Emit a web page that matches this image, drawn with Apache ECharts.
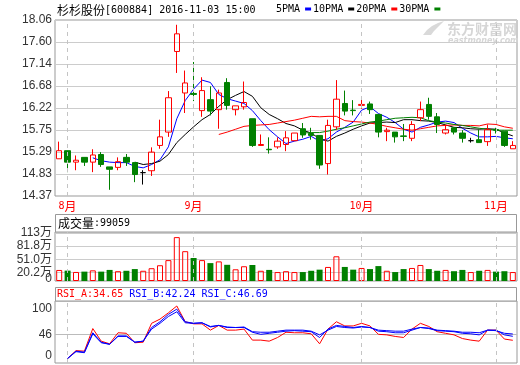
<!DOCTYPE html>
<html><head><meta charset="utf-8">
<script src="https://cdn.jsdelivr.net/npm/echarts@6/dist/echarts.min.js"></script>
<style>html,body{margin:0;padding:0;background:#fff}#c{width:520px;height:365px}</style>
</head><body><div id="c"></div>
<script>
const dates = ['2016-07-29',
'2016-08-01','2016-08-02','2016-08-03','2016-08-04','2016-08-05','2016-08-08','2016-08-09','2016-08-10','2016-08-11','2016-08-12','2016-08-15','2016-08-16','2016-08-17','2016-08-18','2016-08-19',
'2016-09-01','2016-09-02','2016-09-05','2016-09-06','2016-09-07','2016-09-08','2016-09-09','2016-09-12','2016-09-13','2016-09-14','2016-09-19','2016-09-20','2016-09-21','2016-09-22','2016-09-23','2016-09-26','2016-09-27','2016-09-28','2016-09-29','2016-09-30',
'2016-10-10','2016-10-11','2016-10-12','2016-10-13','2016-10-14','2016-10-17','2016-10-18','2016-10-19','2016-10-20','2016-10-21','2016-10-24','2016-10-25','2016-10-26','2016-10-27','2016-10-28','2016-10-31',
'2016-11-01','2016-11-02','2016-11-03'];
const opens  = [15.15,15.32,15.08,15.18,15.08,15.24,14.98,14.97,15.18,15.07,14.86,14.90,15.43,15.71,17.40,16.53,16.52,16.16,16.39,16.18,16.75,16.18,16.24,15.99,15.43,15.35,15.40,15.45,15.53,15.78,15.68,15.64,15.05,15.82,16.31,16.17,16.27,16.30,16.08,15.72,15.71,15.63,15.58,16.01,16.29,16.03,15.69,15.80,15.69,15.53,15.55,15.51,15.76,15.73,15.36];
const closes = [15.32,15.08,15.12,15.08,15.23,15.03,14.93,15.09,15.08,14.82,14.86,15.29,15.61,16.43,17.77,16.74,16.50,16.58,16.15,16.53,16.27,16.26,16.33,15.43,15.45,15.34,15.52,15.59,15.69,15.65,15.64,15.02,15.85,16.40,16.15,16.16,16.29,16.18,15.71,15.75,15.61,15.62,15.87,16.18,16.04,15.87,15.76,15.71,15.58,15.53,15.49,15.76,15.75,15.43,15.43];
const lows   = [15.15,14.87,14.91,15.00,14.87,14.98,14.50,14.91,15.00,14.66,14.61,14.79,15.36,15.61,16.95,16.11,16.36,16.03,16.06,15.78,16.18,16.06,16.18,15.40,15.42,15.26,15.36,15.31,15.52,15.59,15.55,14.94,14.82,15.76,16.06,16.06,16.20,16.09,15.60,15.52,15.49,15.52,15.52,15.94,15.97,15.69,15.66,15.66,15.49,15.49,15.49,15.42,15.68,15.40,15.36];
const highs  = [15.51,15.32,15.22,15.18,15.35,15.29,14.98,15.18,15.25,15.07,14.91,15.39,15.97,16.57,17.96,17.00,17.18,16.86,16.67,16.60,16.84,16.26,16.77,15.99,15.66,15.60,15.60,15.73,15.69,15.90,15.80,15.64,15.97,16.80,16.58,16.38,16.39,16.35,16.08,15.80,15.71,15.88,15.94,16.35,16.43,16.11,15.87,15.80,15.75,15.59,15.76,15.87,15.80,15.73,15.52];
const ma5  = ['-','-','-','-',15.17,15.11,15.08,15.07,15.07,14.99,14.96,15.03,15.13,15.40,15.99,16.37,16.61,16.80,16.75,16.50,16.41,16.36,16.31,16.16,15.95,15.76,15.61,15.47,15.52,15.56,15.62,15.52,15.57,15.71,15.81,15.92,16.17,16.24,16.10,16.02,15.91,15.77,15.71,15.81,15.86,15.92,15.94,15.91,15.79,15.69,15.61,15.61,15.62,15.59,15.57];
const ma10 = ['-','-','-','-','-','-','-','-','-',15.08,15.03,15.05,15.10,15.24,15.49,15.66,15.82,15.97,16.08,16.25,16.39,16.48,16.56,16.46,16.22,16.08,15.99,15.89,15.84,15.75,15.69,15.57,15.52,15.62,15.69,15.77,15.84,15.90,15.91,15.92,15.91,15.97,15.97,15.95,15.94,15.91,15.86,15.81,15.80,15.78,15.77,15.78,15.77,15.69,15.63];
const ma20 = ['-','-','-','-','-','-','-','-','-','-','-','-','-','-','-','-','-','-','-',15.66,15.71,15.77,15.83,15.85,15.86,15.87,15.90,15.93,15.96,16.00,16.04,16.03,16.04,16.04,15.95,15.93,15.92,15.90,15.87,15.83,15.80,15.77,15.75,15.78,15.81,15.84,15.85,15.86,15.85,15.85,15.84,15.88,15.87,15.82,15.79];
const ma30 = ['-','-','-','-','-','-','-','-','-','-','-','-','-','-','-','-','-','-','-','-','-','-','-','-','-','-','-','-','-',15.69,15.70,15.70,15.73,15.77,15.80,15.84,15.88,15.92,15.94,15.97,16.00,16.01,16.02,16.01,15.95,15.92,15.90,15.87,15.85,15.82,15.79,15.77,15.75,15.75,15.75];
const volumes = [25.9,24.3,21.2,22,25,22,26,23,24,28,24,30,37,49,103,70,54,49,42,46,38,27.5,34.6,37.6,24,26,21,23,21,21,24,26.6,33,58,33,26.6,30.6,28,35,24,21,28,30.6,37.6,28,24,26,23,26,21,24,26,22,23,21];
const rsiA = ['-',0,15,14,57,33,28,49,48,30,31,67,75,87,100,70,66,66,54,63,54,54,56,35,35,33,40,50,49,49,47,28,56,70,62,62,67,62,46,45,42,40,56,67,61,51,48,45,38,35,33,54,54,37,34.65];
const rsiB = ['-',0,14,12,49,31,27,43,43,31,33,59,70,84,94,70,67,68,60,63,59,59,59,50,46,48,50,52,53,52,51,40,56,63,61,59,61,59,52,51,49,49,54,59,57,53,52,51,48,47,45,54,54,45,42.24];
const rsiC = ['-',0,13,11,47,30,27,42,42,31,33,56,67,80,89,68,67,68,61,63,60,59,60,51,50,50,52,54,54,54,52,45,54,61,59,58,60,59,54,53,52,52,56,59,58,54,53,52,50,50,49,54,53,48,46.69];
const priceTicks = [14.37,14.83,15.29,15.75,16.22,16.68,17.14,17.60,18.06];
const volTicks = [0,20.2,51.0,81.8,112.6];
const volTickLabels = ['0','20.2万','51.0万','81.8万','113万'];
const rsiTicks = [0,46,100];
const maNames = ['5PMA','10PMA','20PMA','30PMA'];
const maColors = ['#0000ff','#000000','#ff0000','#008000'];

const monthStarts = dates.map((d,i)=> i>0 && d.slice(5,7)!==dates[i-1].slice(5,7) ? i : -1).filter(i=>i>=0);
const vLines = {
  silent: true, symbol: 'none', animation: false,
  label: {show: false},
  lineStyle: {type: [4,4], color: '#c4c4c4', width: 1},
  data: monthStarts.map(i => ({xAxis: i}))
};
const LF = 'Liberation Sans, Arial, Noto Sans CJK SC';
const MONO = 'DejaVu Sans Mono';
const CJK = 'Noto Sans CJK SC';

const chart = echarts.init(document.getElementById('c'), null, {renderer: 'canvas'});
const xBase = (g) => ({
  type: 'category', gridIndex: g, data: dates, boundaryGap: true,
  axisLine: {show: false}, axisTick: {show: false}, splitLine: {show: false},
  axisLabel: {show: false}
});
const x0 = xBase(0);
x0.axisLabel = {
  show: true, margin: 4,
  interval: (i) => monthStarts.indexOf(i) >= 0,
  formatter: (v) => '{m|' + parseInt(v.slice(5,7),10) + '}{c|月}',
  rich: {m: {fontFamily: MONO, fontSize: 10, color: '#ff0000'}, c: {fontFamily: CJK, fontSize: 12, color: '#ff0000'}}
};
const gridCommon = {left: 55, right: 3, show: true, borderColor: '#999', borderWidth: 1, backgroundColor: 'transparent'};
const labelBase = {color: '#333', fontSize: 12, fontFamily: LF, margin: 3, showMinLabel: true, showMaxLabel: true, hideOverlap: false};
// the zero label of the volume panel overlaps its neighbour in the original, so it is drawn as a separate text
const volAxisTicks = volTicks.filter(v => v !== 0);

const option = {
  animation: false,
  backgroundColor: '#fff',
  legend: {
    data: maNames, left: 276, top: 4, padding: 0, itemGap: 2,
    itemWidth: 6, itemHeight: 3, icon: 'rect', align: 'right', selectedMode: false,
    textStyle: {fontFamily: MONO, fontSize: 10, color: '#000'}
  },
  grid: [
    Object.assign({top: 20, height: 176}, gridCommon),
    Object.assign({top: 232, height: 49}, gridCommon),
    Object.assign({top: 301, height: 62}, gridCommon)
  ],
  xAxis: [x0, xBase(1), xBase(2)],
  yAxis: [
    {type: 'value', gridIndex: 0, min: 14.37, max: 18.06,
     axisLine: {show: false}, axisTick: {show: false, customValues: priceTicks},
     axisLabel: Object.assign({customValues: priceTicks, formatter: v => v.toFixed(2)}, labelBase),
     splitLine: {show: true, lineStyle: {color: '#cccccc', width: 1}}},
    {type: 'value', gridIndex: 1, min: 0, max: 115,
     axisLine: {show: false}, axisTick: {show: false, customValues: volAxisTicks},
     axisLabel: Object.assign({}, labelBase, {customValues: volAxisTicks,
       formatter: v => { const k = volTicks.indexOf(v); return k >= 0 ? volTickLabels[k] : ''; }}),
     splitLine: {show: true, lineStyle: {color: '#cccccc', width: 1}}},
    {type: 'value', gridIndex: 2, min: -8.6, max: 109.5,
     axisLine: {show: false}, axisTick: {show: false, customValues: [46]},
     axisLabel: Object.assign({customValues: rsiTicks,
       formatter: v => v === 100 ? '{t|100}' : (v === 0 ? '{b|0}' : String(v)),
       rich: {t: {padding: [5,0,0,0], fontSize: 12, fontFamily: LF, color: '#333'},
              b: {padding: [0,0,6,0], fontSize: 12, fontFamily: LF, color: '#333'}}}, labelBase),
     splitLine: {show: true, lineStyle: {color: '#bbbbbb', width: 1}}}
  ],
  series: [
    {type: 'candlestick', name: 'K', xAxisIndex: 0, yAxisIndex: 0, z: 3, barWidth: 6,
     data: dates.map((d,i) => [opens[i], closes[i], lows[i], highs[i]]),
     itemStyle: {color: 'rgba(255,255,255,0)', color0: '#008000', borderColor: '#ff0000', borderColor0: '#008000', borderColorDoji: '#000000', borderWidth: 1},
     markLine: vLines},
    ...[ma5, ma10, ma20, ma30].map((arr, k) => ({
      type: 'line', name: maNames[k], xAxisIndex: 0, yAxisIndex: 0, z: 2, data: arr,
      symbol: 'none', showSymbol: false,
      lineStyle: {color: maColors[k], width: 1}, itemStyle: {color: maColors[k]}
    })),
    {type: 'bar', name: 'VOL', xAxisIndex: 1, yAxisIndex: 1, barWidth: 6,
     data: volumes.map((v,i) => ({value: v, itemStyle: closes[i] >= opens[i]
        ? {color: 'rgba(255,255,255,0)', borderColor: '#ff0000', borderWidth: 1}
        : {color: '#008000'}})),
     markLine: vLines},
    {type: 'line', name: 'RSI_A', xAxisIndex: 2, yAxisIndex: 2, data: rsiA, symbol: 'none', lineStyle: {color: '#ff0000', width: 1}, itemStyle: {color: '#ff0000'}, markLine: vLines},
    {type: 'line', name: 'RSI_B', xAxisIndex: 2, yAxisIndex: 2, data: rsiB, symbol: 'none', lineStyle: {color: '#0000ff', width: 1}, itemStyle: {color: '#0000ff'}},
    {type: 'line', name: 'RSI_C', xAxisIndex: 2, yAxisIndex: 2, data: rsiC, symbol: 'none', lineStyle: {color: '#0000ff', width: 1}, itemStyle: {color: '#0000ff'}}
  ],
  graphic: [
    {type: 'polygon', z: 0, silent: true,
     shape: {points: [[423,35],[427,30],[432,26],[438,23],[444,21],[441,24],[437,28],[434,31],[431,35]]},
     style: {fill: '#d9d9d9'}},
    {type: 'text', x: 447, y: 29, z: 0, silent: true,
     style: {text: '东方财富网', fontFamily: CJK, fontSize: 14, fontWeight: 'bold', fill: '#d6d6d6', verticalAlign: 'middle', textVerticalAlign: 'middle'}},
    {type: 'text', x: 448, y: 41, z: 0, silent: true,
     style: {text: 'eastmoney.com', fontFamily: 'DejaVu Sans', fontSize: 8, fontWeight: 'bold', fontStyle: 'italic', fill: '#d6d6d6', verticalAlign: 'middle', textVerticalAlign: 'middle'}},
    {type: 'text', x: 57, y: 10, z: 10,
     style: {text: '{c|杉杉股份}{m|[600884] 2016-11-03 15:00}', verticalAlign: 'middle', textVerticalAlign: 'middle',
       rich: {c: {fontFamily: CJK, fontSize: 12, fill: '#000', color: '#000'}, m: {fontFamily: MONO, fontSize: 10, fill: '#000', color: '#000'}}}},
    {type: 'rect', shape: {x: 55.5, y: 214.5, width: 461, height: 17.5}, z: 1,
     style: {fill: '#fff', stroke: '#999', lineWidth: 1}},
    {type: 'text', x: 58, y: 223, z: 10,
     style: {text: '{c|成交量}{m|:99059}', verticalAlign: 'middle', textVerticalAlign: 'middle',
       rich: {c: {fontFamily: CJK, fontSize: 12, fill: '#000', color: '#000'}, m: {fontFamily: MONO, fontSize: 10, fill: '#000', color: '#000'}}}},
    {type: 'text', x: 52, y: 279, z: 10,
     style: {text: volTickLabels[0], fontFamily: LF, fontSize: 12, fill: '#333', align: 'right', textAlign: 'right', verticalAlign: 'middle', textVerticalAlign: 'middle'}},
    {type: 'rect', shape: {x: 55.5, y: 287.5, width: 461, height: 13.5}, z: 1,
     style: {fill: '#fff', stroke: '#999', lineWidth: 1}},
    {type: 'text', x: 57, y: 294, z: 10,
     style: {text: '{a|RSI_A:34.65 }{b|RSI_B:42.24 }{b|RSI_C:46.69}', verticalAlign: 'middle', textVerticalAlign: 'middle',
       rich: {a: {fontFamily: MONO, fontSize: 10, fill: '#ff0000', color: '#ff0000'}, b: {fontFamily: MONO, fontSize: 10, fill: '#0000ff', color: '#0000ff'}}}}
  ]
};
chart.setOption(option);
</script>
</body></html>
